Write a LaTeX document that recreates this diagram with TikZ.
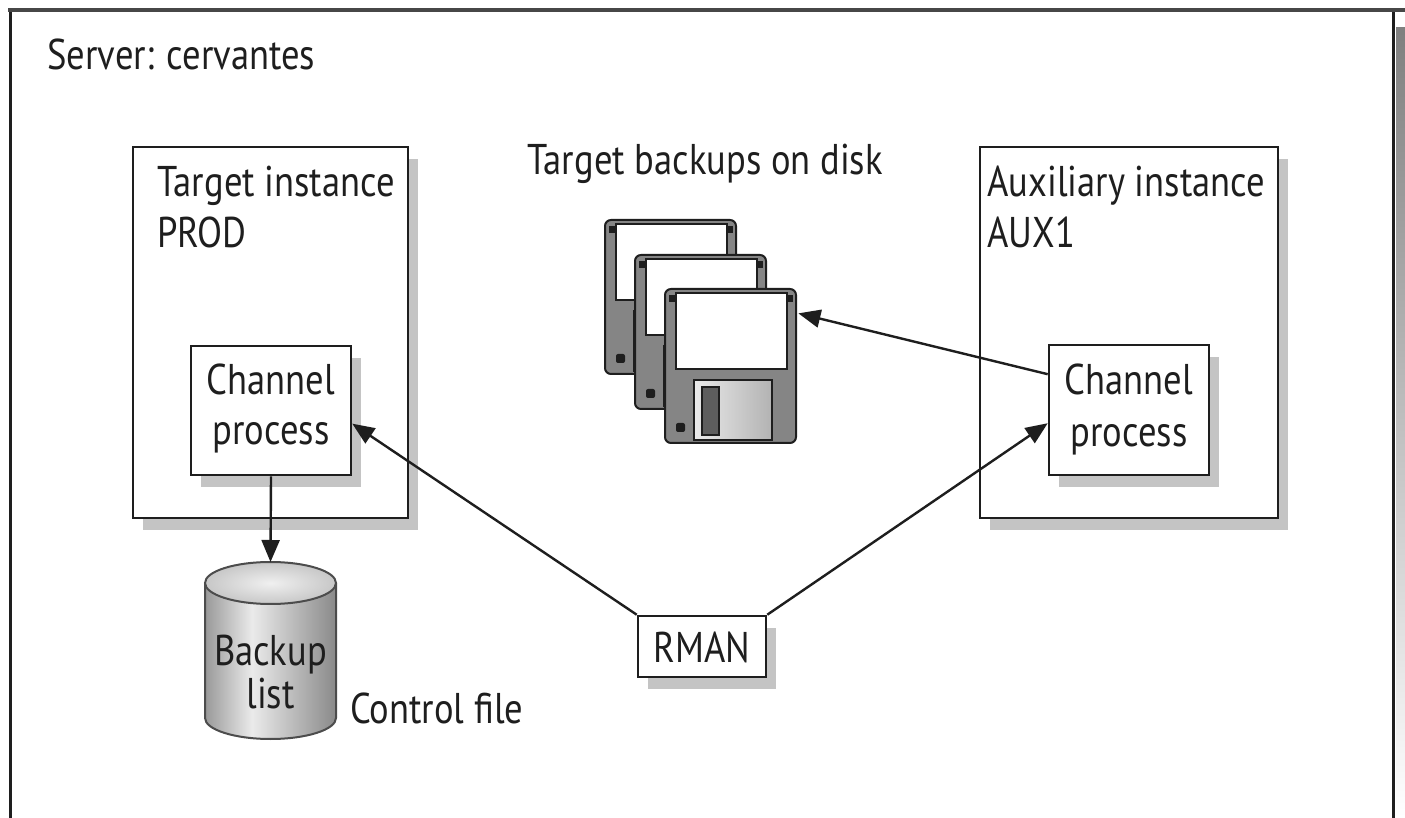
\documentclass[tikz,border=0pt]{standalone}
\usepackage{fontspec}
\setmainfont[FakeStretch=0.85]{PT Sans}
\usetikzlibrary{arrows.meta,calc,shadows}
\definecolor{ink}{HTML}{1E1E1E}
\definecolor{shade}{HTML}{C4C4C4}
\definecolor{diskgray}{HTML}{858585}
\definecolor{diskdark}{HTML}{5E5E5E}

% metallic body of the control file cylinder
\pgfdeclarehorizontalshading{cylbody}{100bp}{%
  color(0bp)=(black!40); color(25bp)=(black!40); color(43bp)=(black!8);
  color(75bp)=(black!46); color(100bp)=(black!46)}

% one 3.5" floppy disk, top-left corner at (#1,#2)
\newcommand\diskat[2]{%
  \begin{scope}[shift={(#1,#2)}]
    \draw[fill=diskgray, draw=ink, line width=1pt, rounded corners=3pt] (0,0) rectangle (131,154);
    \fill[ink] (4,6) rectangle (10,13);
    \fill[ink] (122,6) rectangle (128,13);
    \draw[fill=white, draw=ink, line width=0.6pt] (11,4) rectangle (122,80);
    \draw[left color=black!8, right color=black!30, draw=ink, line width=0.6pt] (29,91) rectangle (107,151);
    \draw[fill=diskdark, draw=ink, line width=0.6pt] (37,98) rectangle (54,146);
    \fill[ink, rounded corners=1pt] (11,134) rectangle (20,143);
  \end{scope}}

\begin{document}
\begin{tikzpicture}[x=0.5pt,y=-0.5pt,
  txt/.style={font=\fontsize{21.5}{26}\selectfont, text=ink, inner sep=0pt},
  box/.style={draw=ink, line width=1.3pt, fill=white, inner sep=0pt,
    drop shadow={shadow xshift=5pt, shadow yshift=-6pt, opacity=1, fill=shade}},
  conn/.style={draw=ink, line width=1.2pt, -{Triangle[length=11pt,width=9pt]}},
]
\useasboundingbox (0,0) rectangle (1405,818);
\fill[white] (0,0) rectangle (1405,818);

% server frame
\fill[shade] (1396,28) rectangle (1405,818);
\draw[ink, line width=1.5pt] (10.5,10) -- (10.5,818);
\draw[ink, line width=1.5pt] (1393,10) -- (1393,818);
\fill[black!72] (8,8) rectangle (1405,12.5);
\node[txt, anchor=base west] (srv) at (47,70) {Server: cervantes};

% instances
\node[box, minimum width=137.5pt, minimum height=185.5pt] (tgt) at (270.5,332.5) {};
\node[box, minimum width=149pt, minimum height=185.5pt] (aux) at (1129,332.5) {};
\node[txt, anchor=base west] (tgtA) at (157,197) {Target instance};
\node[txt, anchor=base west] (tgtB) at (157,248) {PROD};
\node[txt, anchor=base west] (auxA) at (987,197) {Auxiliary instance};
\node[txt, anchor=base west] (auxB) at (987,248) {AUX1};

% channel processes
\node[box, minimum width=80pt, minimum height=64.5pt] (lch) at (271,410.5) {};
\node[box, minimum width=80pt, minimum height=65pt] (rch) at (1129,410) {};
\node[txt, anchor=base] (lchA) at (271,395) {Channel};
\node[txt, anchor=base] (lchB) at (271,445) {process};
\node[txt, anchor=base] (rchA) at (1129,395) {Channel};
\node[txt, anchor=base] (rchB) at (1129,447) {process};

% RMAN
\node[box, minimum width=64pt, minimum height=30.5pt] (rman) at (702,646.5) {};
\node[txt, anchor=base] (rmanT) at (702,662) {RMAN};

% backups on disk
\node[txt, anchor=base west] (bk) at (527,175) {Target backups on disk};
\diskat{605}{220}
\diskat{635}{255}
\diskat{665}{289}
\node[inner sep=0pt, minimum width=65.5pt, minimum height=77pt] (disk) at (730.5,366) {};

% control file cylinder
\shade[shading=cylbody]
  (205,583) -- (205,718) arc[start angle=180, end angle=0, x radius=65.5, y radius=21] -- (336,583) -- cycle;
\draw[black!70, line width=1pt]
  (205,583) -- (205,718) arc[start angle=180, end angle=0, x radius=65.5, y radius=21] -- (336,583);
\draw[black!70, line width=1pt, inner color=black!6, outer color=black!22]
  (270.5,583) ellipse[x radius=65.5, y radius=21];
\coordinate (cyltop) at (270.5,562);
\node[txt, anchor=base] (cylA) at (270.5,665) {Backup};
\node[txt, anchor=base] (cylB) at (270.5,708) {list};
\node[txt, anchor=base west] (ctl) at (350,723) {Control file};

% connectors
\draw[conn] (rman.north west) -- ($(lch.south east)!0.4!(lch.north east)$);
\draw[conn] (rman.north east) -- ($(rch.south west)!0.4!(rch.north west)$);
\draw[conn] ($(rch.north west)!0.23!(rch.south west)$) -- ($(disk.north east)!0.16!(disk.south east)+(2,0)$);
\draw[conn] (lch.south) -- (cyltop);
\end{tikzpicture}
\end{document}
